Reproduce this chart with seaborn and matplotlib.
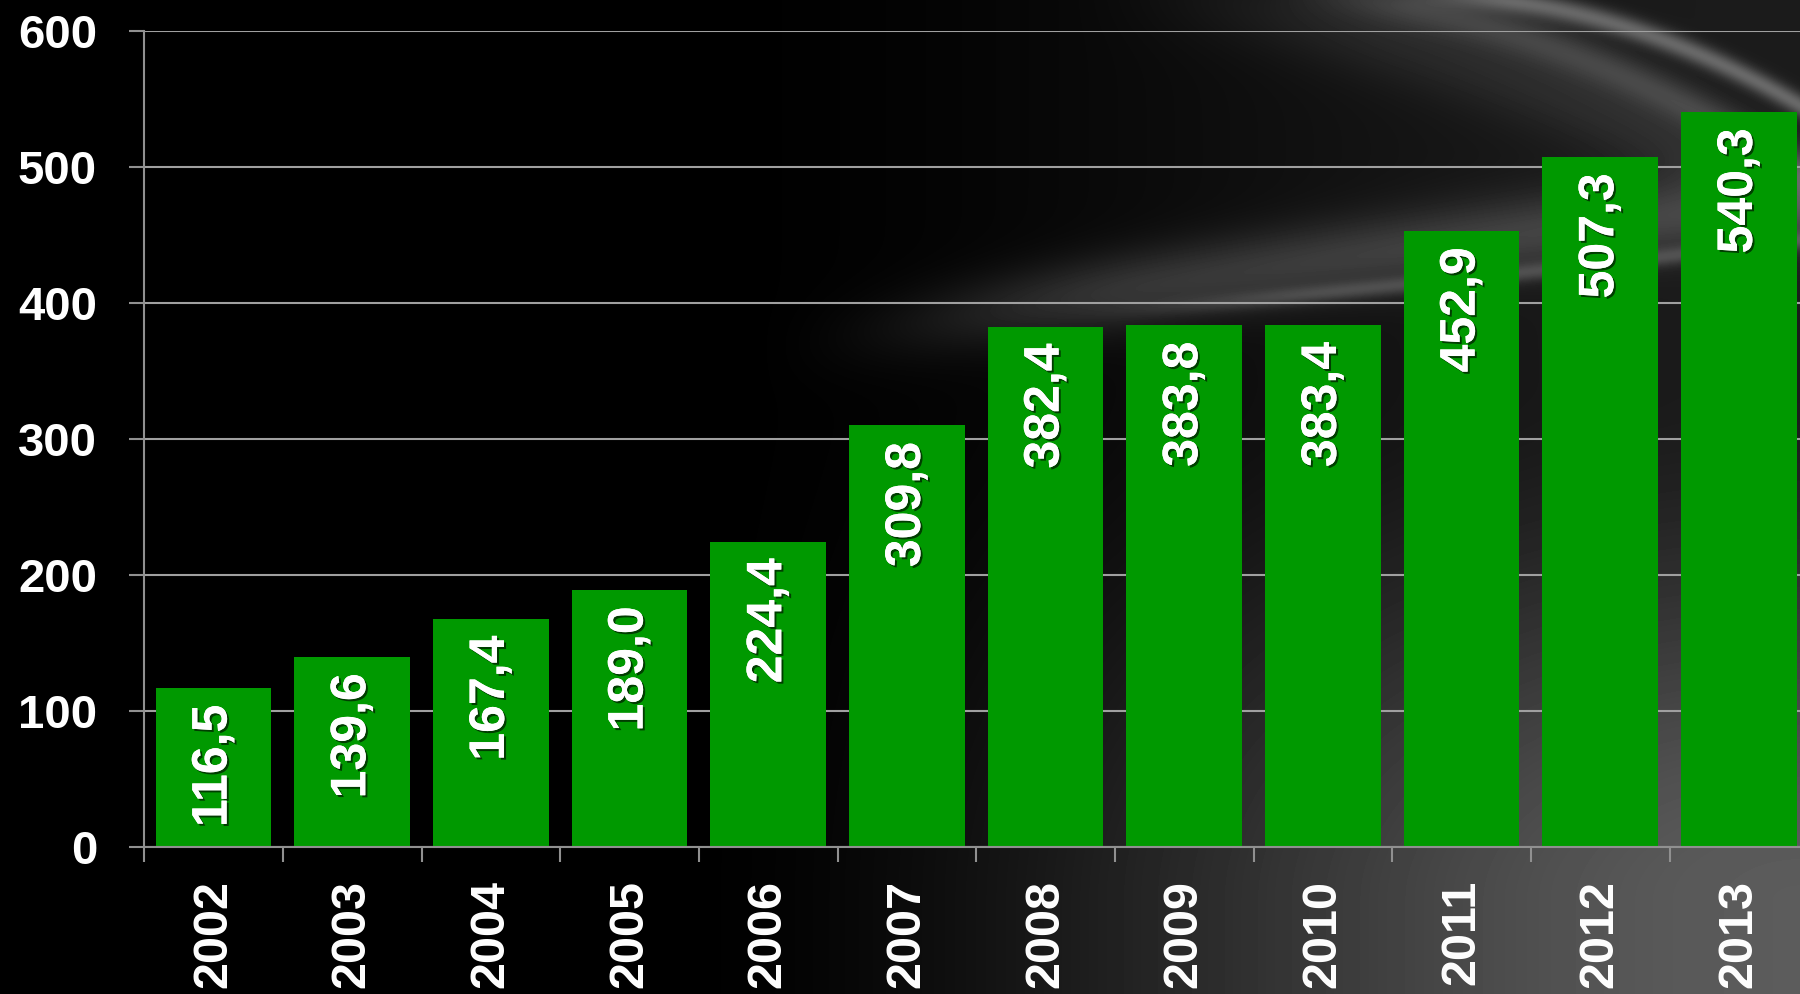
import numpy as np
import pandas as pd
import matplotlib
matplotlib.use("Agg")
import matplotlib.pyplot as plt
import matplotlib.patheffects as pe
import seaborn as sns

years = ["2002", "2003", "2004", "2005", "2006", "2007",
         "2008", "2009", "2010", "2011", "2012", "2013"]
values = [116.5, 139.6, 167.4, 189.0, 224.4, 309.8,
          382.4, 383.8, 383.4, 452.9, 507.3, 540.3]
labels = ["116,5", "139,6", "167,4", "189,0", "224,4", "309,8",
          "382,4", "383,8", "383,4", "452,9", "507,3", "540,3"]
yticks = [0, 100, 200, 300, 400, 500, 600]

sns.set_style("dark")
plt.rcParams["font.family"] = ["Liberation Sans", "DejaVu Sans"]
plt.rcParams["font.weight"] = "bold"

W, H = 1800, 994
fig = plt.figure(figsize=(W / 100, H / 100), dpi=100, facecolor="black")

# decorative background (dark with grey swooshes)
bg = fig.add_axes([0, 0, 1, 1], zorder=0)
X, Y = np.meshgrid(np.arange(W, dtype=float), np.arange(H, dtype=float))
def sstep(t):
    t = np.clip(t, 0, 1)
    return t * t * (3 - 2 * t)
def band(px, py, width, amp, x0, x1):
    c = np.polyfit(px, py, 2)
    yc = np.polyval(c, X)
    return amp * sstep((X - x0) / (x1 - x0)) * np.exp(-((Y - yc) / width) ** 2)
img = np.zeros((H, W))
# bottom-right glow
img += 0.36 * sstep((X - 650) / 1150) * (0.3 + 0.7 * sstep((Y - 380) / 520))
# broad haze band
img += band([850, 1200, 1500, 1800], [335, 275, 240, 200], 38, 0.17, 750, 1150)
img += band([1000, 1350, 1800], [320, 290, 240], 9, 0.16, 1050, 1350)
# top arcs
img += band([1507, 1650, 1800], [0, 35, 105], 12, 0.30, 1380, 1520)
img += band([1380, 1600, 1800], [0, 65, 170], 22, 0.15, 1250, 1420)
img += band([1200, 1500, 1800], [0, 70, 200], 45, 0.08, 1050, 1400)
img = np.clip(img, 0, 1)
bg.imshow(img, cmap="gray", vmin=0, vmax=1, aspect="auto", extent=[0, W, H, 0])
bg.set_axis_off()

ax = fig.add_axes([144.3 / W, (H - 846.7) / H, 1664 / W, 816 / H], zorder=1)
ax.set_facecolor("none")

df = pd.DataFrame({"year": years, "value": values})
sns.barplot(data=df, x="year", y="value", color="#009900", saturation=1,
            width=0.834, ax=ax, zorder=3, linewidth=0, edgecolor="none")

for i, (v, lab) in enumerate(zip(values, labels)):
    ax.annotate(lab, xy=(i, v), xytext=(0, -12), textcoords="offset points",
                rotation=90, ha="center", va="top", color="white",
                fontsize=36, fontweight="bold", zorder=5,
                path_effects=[pe.withSimplePatchShadow(offset=(1.5, -1.5),
                                                       shadow_rgbFace="#003300",
                                                       alpha=0.9),
                              pe.Normal()])

ax.set_xlim(-0.5, len(years) - 0.5)
ax.set_ylim(0, 600)
ax.set_yticks(yticks)
ax.set_yticklabels([str(t) for t in yticks])
ax.grid(axis="y", color="#a0a0a0", linewidth=1.5, zorder=0)
ax.grid(axis="x", visible=False)
ax.set_axisbelow(True)

ax.set_xlabel("")
ax.set_ylabel("")
ax.tick_params(axis="y", colors="#909090", length=11, width=1.5, direction="out",
               labelcolor="white", labelsize=34, pad=23, left=True)
ax.tick_params(axis="x", which="major", length=0, labelcolor="white",
               labelsize=35, pad=24, labelrotation=90)
ax.set_xticks(np.arange(-0.5, len(years), 1.0), minor=True)
ax.tick_params(axis="x", which="minor", length=11, width=1.5,
               color="#909090", direction="out", bottom=True)
for t in ax.get_xticklabels() + ax.get_yticklabels():
    t.set_fontweight("bold")
for t in ax.get_xticklabels():
    t.set_va("top")

for s in ["top", "right"]:
    ax.spines[s].set_visible(False)
for s in ["left", "bottom"]:
    ax.spines[s].set_visible(True)
    ax.spines[s].set_color("#909090")
    ax.spines[s].set_linewidth(1.5)
    ax.spines[s].set_zorder(4)

fig.savefig("out.png", dpi=100, facecolor="black")
